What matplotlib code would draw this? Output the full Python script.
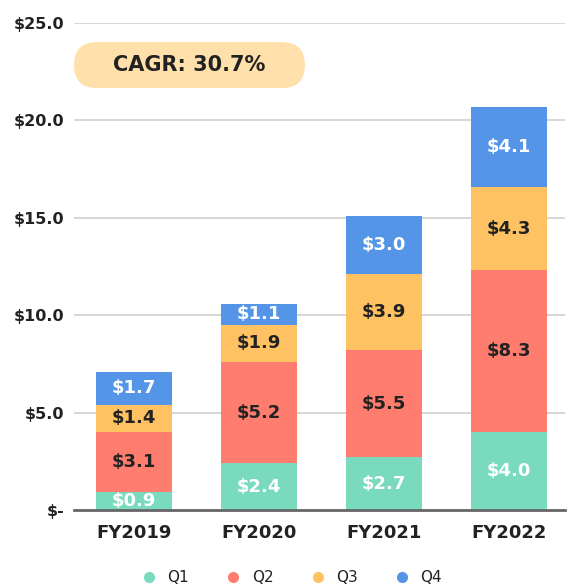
import matplotlib
matplotlib.use("Agg")
import matplotlib.pyplot as plt
from matplotlib.patches import FancyBboxPatch
from matplotlib.lines import Line2D
import numpy as np

years = ["FY2019", "FY2020", "FY2021", "FY2022"]
quarters = ["Q1", "Q2", "Q3", "Q4"]
q1 = [0.9, 2.4, 2.7, 4.0]
q2 = [3.1, 5.2, 5.5, 8.3]
q3 = [1.4, 1.9, 3.9, 4.3]
q4 = [1.7, 1.1, 3.0, 4.1]
series = [q1, q2, q3, q4]
colors = ["#79DABD", "#FF7D6E", "#FEC262", "#5495E8"]
label_colors = ["white", "#222222", "#222222", "white"]
yticks = [0, 5, 10, 15, 20, 25]
ytick_labels = ["$-", "$5.0", "$10.0", "$15.0", "$20.0", "$25.0"]
cagr_text = "CAGR: 30.7%"

plt.rcParams['font.family'] = ['DejaVu Sans']
dark = "#222222"

fig = plt.figure(figsize=(5.74, 5.88), dpi=100)
ax = fig.add_axes([74/574, 78/588, (565-74)/574, (510-23)/588])

x = np.arange(len(years))
bottom = np.zeros(len(years))
for vals, c, lc in zip(series, colors, label_colors):
    bars = ax.bar(x, vals, width=0.608, bottom=bottom, color=c, zorder=3)
    ax.bar_label(bars, labels=[f"${v:.1f}" for v in vals], label_type='center',
                 color=lc, fontsize=13, fontweight='bold', zorder=4)
    bottom += np.array(vals)

ax.set_xlim(-0.48, 3.45)
ax.set_ylim(0, 25)
ax.set_yticks(yticks)
ax.set_yticklabels(ytick_labels)
ax.set_xticks(x)
ax.set_xticklabels(years)
for s in ax.spines.values():
    s.set_visible(False)
ax.tick_params(axis='both', length=0, colors=dark)
ax.tick_params(axis='y', pad=7, labelsize=11.5)
ax.tick_params(axis='x', pad=10, labelsize=13)
for t in ax.get_yticklabels() + ax.get_xticklabels():
    t.set_fontweight('bold')
ax.grid(axis='y', color='#d0d0d0', linewidth=1.2, zorder=0)
ax.set_axisbelow(True)
ax.axhline(0, color='#666666', linewidth=2, zorder=5, clip_on=False)

# CAGR pill
x0, x1 = -0.48, 1.368
y0, y1 = 21.66, 24.02
r = 0.184
pill = FancyBboxPatch((x0, y0), x1 - x0, y1 - y0,
                      boxstyle=f"round,pad=0,rounding_size={r}",
                      mutation_aspect=6.4, facecolor="#FFDFAA", edgecolor='none',
                      zorder=6, clip_on=False)
ax.add_patch(pill)
ax.text((x0 + x1) / 2, (y0 + y1) / 2, cagr_text, ha='center', va='center',
        fontsize=15, fontweight='bold', color=dark, zorder=7)

handles = [Line2D([], [], marker='o', linestyle='none', markersize=8,
                  markerfacecolor=c, markeredgecolor='none') for c in colors]
fig.legend(handles, quarters, loc='center', bbox_to_anchor=(291/574, 10/588),
           ncol=4, frameon=False, fontsize=11, handletextpad=0.6,
           handlelength=1.2, columnspacing=2.3, labelcolor=dark)

fig.savefig("out.png", dpi=100)
